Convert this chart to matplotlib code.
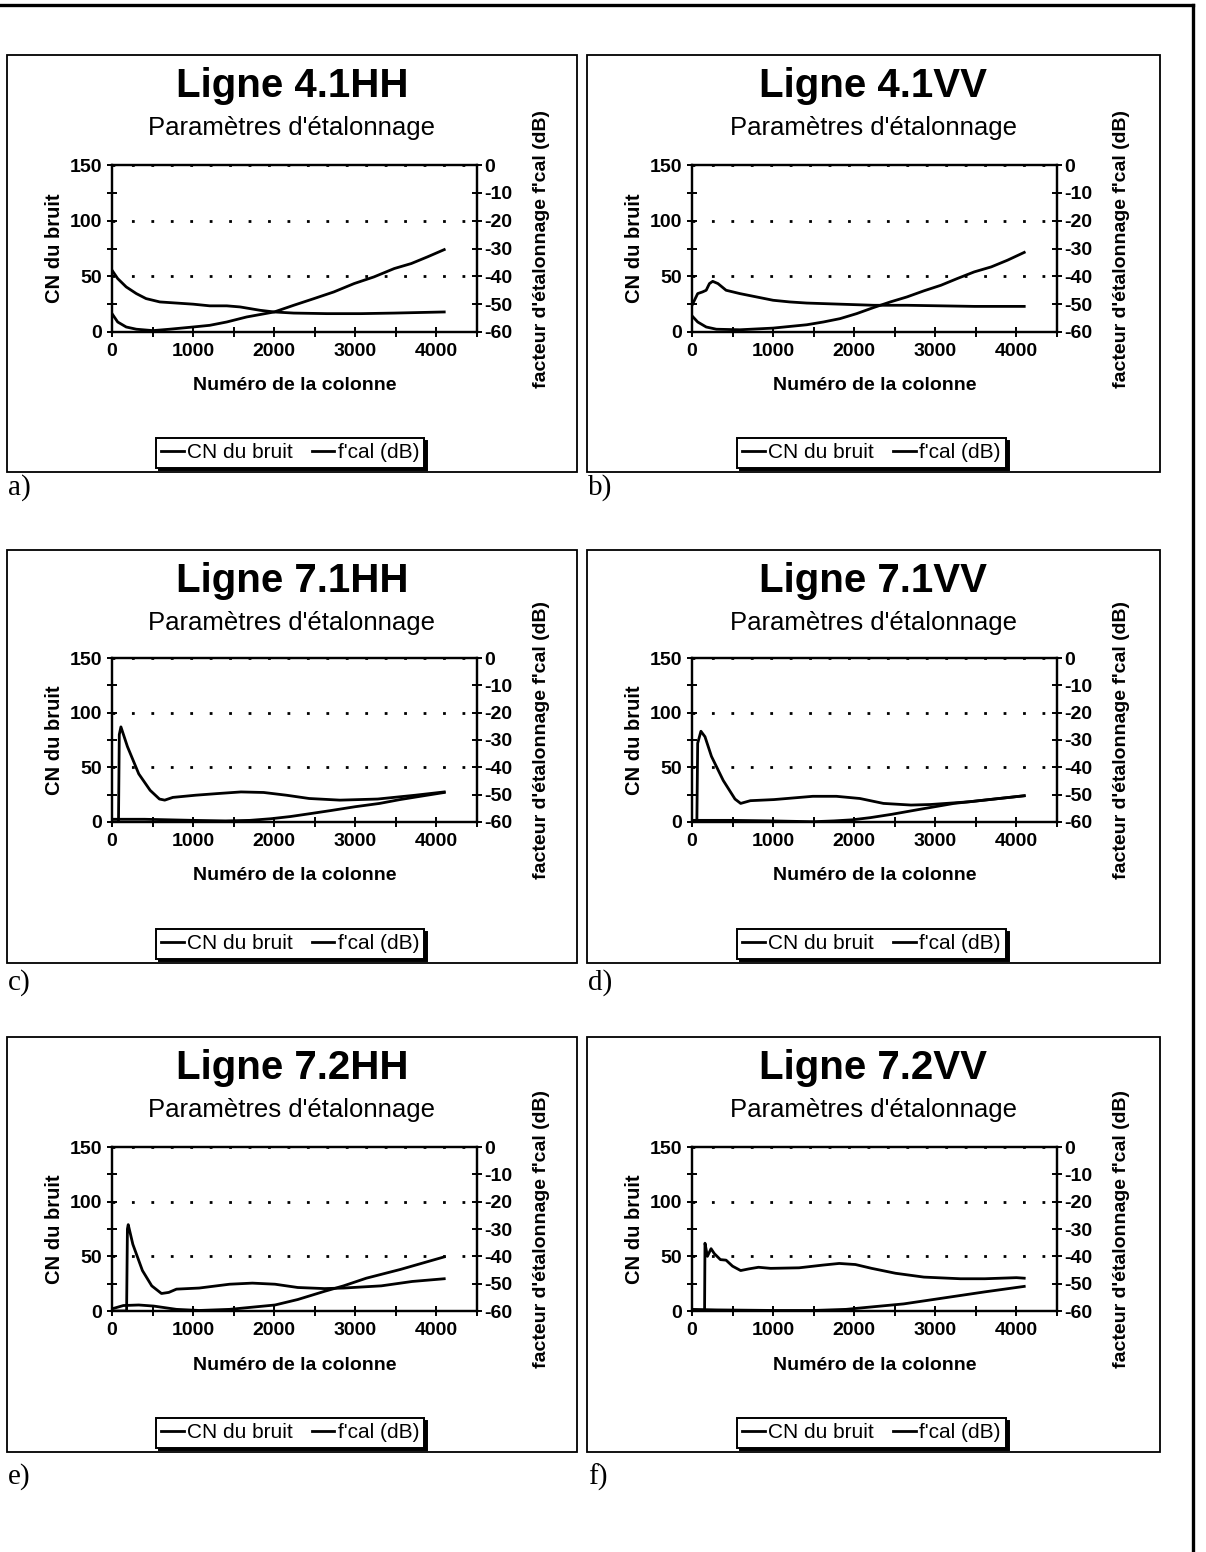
import matplotlib
matplotlib.use("Agg")
import matplotlib.pyplot as plt
from matplotlib.patches import Rectangle
from matplotlib.lines import Line2D
from matplotlib.ticker import MultipleLocator

plt.rcParams['font.family'] = ['Liberation Sans', 'DejaVu Sans']
plt.rcParams['axes.unicode_minus'] = False

# --- données (colonne, CN du bruit / f'cal en dB) ---
titles = ["Ligne 4.1HH", "Ligne 4.1VV", "Ligne 7.1HH", "Ligne 7.1VV", "Ligne 7.2HH", "Ligne 7.2VV"]
letters = ["a)", "b)", "c)", "d)", "e)", "f)"]

a_cn_x = [0, 70, 175, 300, 420, 590, 795, 1000, 1205, 1415, 1580, 1825, 2000, 2240, 2650, 3070, 3480, 4096]
a_cn_y = [55.5, 48, 40.5, 34.5, 30, 27, 26, 25, 23.5, 23.5, 22.5, 19.5, 18, 17, 16.5, 16.5, 17, 18]
a_fc_x = [0, 70, 175, 300, 505, 710, 1000, 1205, 1415, 1660, 2000, 2240, 2490, 2735, 2985, 3230, 3480, 3690, 3890, 4096]
a_fc_db = [-53.4, -56.4, -58.2, -59.0, -59.5, -59.0, -58.2, -57.6, -56.4, -54.6, -52.8, -50.4, -48.0, -45.6, -42.6,
           -40.2, -37.2, -35.4, -33.0, -30.4]

b_cn_x = [0, 20, 70, 130, 175, 215, 255, 320, 420, 590, 795, 1000, 1205, 1415, 1825, 2240, 2650, 3070, 3480, 4096]
b_cn_y = [24, 27, 34.5, 36, 37.5, 43.5, 45.5, 43.5, 37.5, 34.5, 31.5, 28.5, 27, 26, 25, 24, 24, 23.5, 23, 23]
b_fc_x = [0, 70, 175, 300, 590, 1000, 1415, 1620, 1825, 2030, 2240, 2445, 2650, 2860, 3070, 3270, 3480, 3690, 3890, 4096]
b_fc_db = [-54.2, -56.4, -58.2, -59.0, -59.2, -58.6, -57.4, -56.4, -55.2, -53.4, -51.2, -49.2, -47.4, -45.2, -43.2,
           -40.8, -38.4, -36.6, -34.2, -31.4]

c_cn_x = [0, 80, 90, 110, 190, 330, 470, 585, 650, 750, 1030, 1300, 1590, 1870, 2150, 2430, 2810, 3275, 3740, 4096]
c_cn_y = [0, 0, 80, 87, 69, 44, 29, 21, 20, 22.5, 24.5, 26, 27.5, 27, 24.5, 21.5, 20, 21, 24.5, 27.5]
c_fc_x = [0, 200, 400, 700, 1000, 1400, 1700, 1960, 2200, 2430, 2700, 3000, 3300, 3550, 3800, 4096]
c_fc_db = [-59, -59, -59, -59.2, -59.4, -59.6, -59.4, -58.8, -58, -57, -55.8, -54.4, -53.2, -51.8, -50.6, -49.2]

d_cn_x = [0, 60, 70, 110, 160, 240, 385, 530, 600, 720, 1010, 1490, 1780, 2070, 2360, 2700, 2940, 3420, 4096]
d_cn_y = [0, 0, 72, 83, 78, 60, 38, 21, 17, 19.5, 20.5, 23.5, 23.5, 21.5, 17, 15.5, 16, 18.5, 24]
d_fc_x = [0, 500, 1000, 1490, 1750, 1975, 2200, 2460, 2840, 3230, 3600, 4096]
d_fc_db = [-59.4, -59.4, -59.6, -59.9, -59.6, -59.2, -58.4, -57.2, -55.2, -53.2, -52, -50.4]

e_cn_x = [0, 180, 190, 200, 257, 375, 490, 610, 700, 795, 1075, 1450, 1730, 2010, 2290, 2620, 2855, 3320, 3700, 4096]
e_cn_y = [0, 0, 75, 79, 61, 37, 23, 16, 17, 20, 21, 24.5, 25.5, 24.5, 21.5, 20.5, 21, 23, 27, 29.5]
e_fc_x = [0, 140, 330, 515, 795, 1075, 1450, 1730, 2010, 2290, 2620, 2855, 3135, 3555, 4096]
e_fc_db = [-59.2, -58, -57.8, -58.2, -59.4, -59.8, -59.4, -58.6, -57.8, -55.8, -52.8, -50.8, -48, -44.8, -40.2]

f_cn_x = [0, 155, 160, 190, 235, 275, 350, 420, 500, 600, 700, 820, 970, 1320, 1615, 1815, 2015, 2215, 2510, 2860,
          3310, 3610, 4000, 4096]
f_cn_y = [0, 0, 62, 50, 57, 52.5, 47, 46.5, 41, 37, 38.5, 40, 39, 39.5, 42, 43.5, 42.5, 39, 34.5, 31, 29.5, 29.5,
          30.5, 30]
f_fc_x = [0, 300, 1000, 1500, 1900, 2110, 2610, 3110, 3610, 4096]
f_fc_db = [-59.4, -59.6, -59.8, -59.8, -59.4, -58.8, -57.4, -55.2, -53, -51]

series = [
    (a_cn_x, a_cn_y, a_fc_x, a_fc_db),
    (b_cn_x, b_cn_y, b_fc_x, b_fc_db),
    (c_cn_x, c_cn_y, c_fc_x, c_fc_db),
    (d_cn_x, d_cn_y, d_fc_x, d_fc_db),
    (e_cn_x, e_cn_y, e_fc_x, e_fc_db),
    (f_cn_x, f_cn_y, f_fc_x, f_fc_db),
]

# --- mise en page en pixels ---
W, H = 1206, 1552
fig = plt.figure(figsize=(W / 100, H / 100), dpi=100)


def fx(px):
    return px / W


def fy(py):
    return 1 - py / H


# (cadre gauche, cadre droit, axe gauche, axe droit)
cols = [(7, 577, 112, 477), (587, 1160, 692, 1057)]
# (cadre haut, cadre bas, axe haut, axe bas, lettre)
rows = [(55, 472, 165, 332, 488), (550, 963, 658, 822, 983), (1037, 1452, 1147, 1311, 1477)]

for i, (cn_x, cn_y, fc_x, fc_db) in enumerate(series):
    bl, br, axl, axr = cols[i % 2]
    bt, bb, axt, axb, ly = rows[i // 2]

    fig.add_artist(Rectangle((fx(bl), fy(bb)), (br - bl) / W, (bb - bt) / H,
                             transform=fig.transFigure, fill=False, ec='black', lw=1.3))

    ax = fig.add_axes([fx(axl), fy(axb), (axr - axl) / W, (axb - axt) / H])
    ax2 = ax.twinx()

    l1, = ax.plot(cn_x, cn_y, color='black', lw=2, label='CN du bruit')
    l2, = ax2.plot(fc_x, fc_db, color='black', lw=2, label="f'cal (dB)")

    ax.set_xlim(0, 4500)
    ax.set_ylim(0, 150)
    ax2.set_ylim(-60, 0)
    ax.set_xticks([0, 1000, 2000, 3000, 4000])
    ax.xaxis.set_minor_locator(MultipleLocator(500))
    ax.set_yticks([0, 50, 100, 150])
    ax.yaxis.set_minor_locator(MultipleLocator(25))
    ax2.set_yticks(list(range(-60, 1, 10)))

    ax.grid(axis='y', which='major', color='black', linestyle=(0, (1, 6)), lw=2)
    for a in (ax, ax2):
        for s in a.spines.values():
            s.set_linewidth(1.6)
        a.tick_params(which='both', direction='inout', length=6.5, width=1.4, labelsize=14)
    ax.tick_params(axis='x', pad=5)
    ax.tick_params(axis='y', pad=4)
    ax2.tick_params(axis='y', pad=2)
    for t in ax.get_xticklabels() + ax.get_yticklabels() + ax2.get_yticklabels():
        t.set_fontweight('bold')

    cx = (bl + br) / 2
    fig.text(fx(cx), fy(bt + 31), titles[i], ha='center', va='center', fontsize=29, fontweight='bold')
    fig.text(fx(cx), fy(bt + 73), "Paramètres d'étalonnage", ha='center', va='center', fontsize=18.5)
    fig.text(fx((axl + axr) / 2), fy(axb + 54), "Numéro de la colonne", ha='center', va='center',
             fontsize=14, fontweight='bold')
    fig.text(fx(bl + 47), fy((axt + axb) / 2), "CN du bruit", ha='center', va='center', rotation=90,
             fontsize=14.5, fontweight='bold')
    fig.text(fx(axr + 65), fy((axt + axb) / 2), "facteur d'étalonnage f'cal (dB)", ha='center', va='center',
             rotation=90, fontsize=14, fontweight='bold')

    leg = ax.legend(handles=[l1, l2], loc='center', bbox_to_anchor=(fx(cx - 2), fy(bb - 19)),
                    bbox_transform=fig.transFigure, ncol=2, fontsize=15, handlelength=1.1,
                    handletextpad=0.15, columnspacing=0.9, borderpad=0.25, borderaxespad=0,
                    frameon=True, fancybox=False, framealpha=1, edgecolor='black',
                    shadow={'color': 'black', 'alpha': 1})
    leg.get_frame().set_linewidth(1.4)

    fig.text(fx(bl + 1), fy(ly), letters[i], ha='left', va='center', fontsize=21,
             family=['Liberation Serif', 'DejaVu Serif'])

# cadre de la page
fig.add_artist(Line2D([0, fx(1193)], [fy(5), fy(5)], color='black', lw=2.4))
fig.add_artist(Line2D([fx(1193), fx(1193)], [fy(5), 0], color='black', lw=2.4))

fig.savefig("out.png", dpi=100)
